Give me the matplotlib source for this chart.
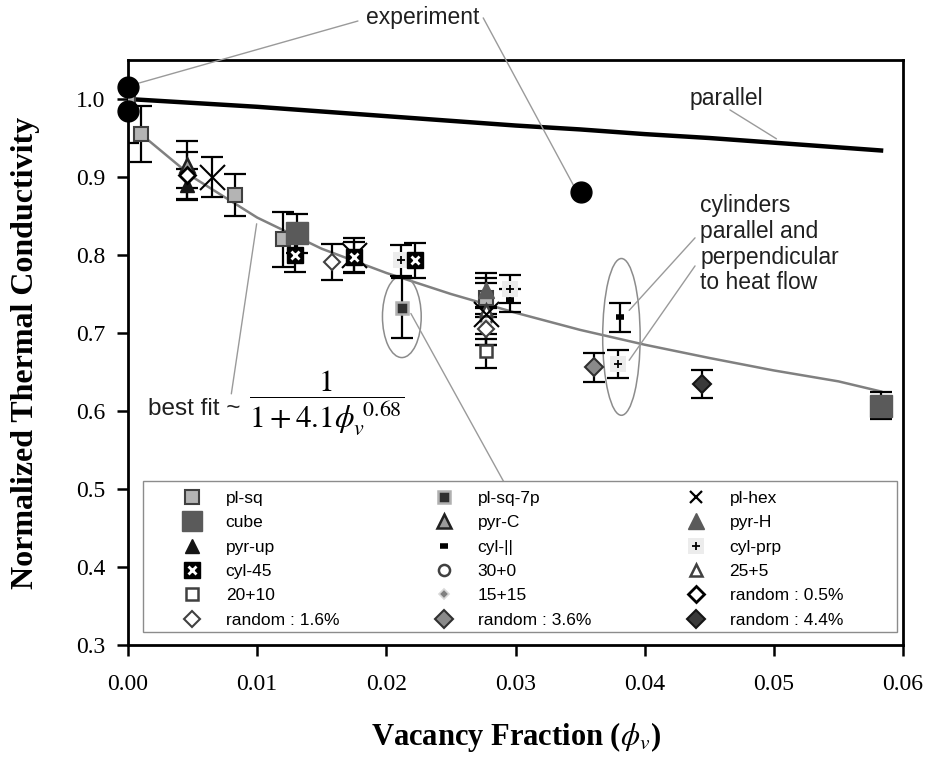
import matplotlib
matplotlib.use('Agg')
import matplotlib.pyplot as plt
from matplotlib.lines import Line2D
from matplotlib.patches import Ellipse, Rectangle

plt.rcParams['mathtext.fontset'] = 'stix'

# ---- data ----
parallel_x = [0.0, 0.005, 0.01, 0.015, 0.02, 0.025, 0.03, 0.035, 0.04, 0.045, 0.05, 0.055, 0.0583]
parallel_y = [1.0, 0.995, 0.990, 0.984, 0.978, 0.972, 0.966, 0.961, 0.955, 0.950, 0.944, 0.938, 0.934]

fit_x = [0.001, 0.005, 0.01, 0.015, 0.02, 0.025, 0.03, 0.035, 0.04, 0.045, 0.05, 0.055, 0.0583]
fit_y = [0.955, 0.900, 0.848, 0.808, 0.777, 0.750, 0.726, 0.704, 0.685, 0.668, 0.652, 0.638, 0.625]

exp_x = [0.0, 0.0, 0.0351]
exp_y = [1.016, 0.985, 0.881]

pl_sq_x = [0.0, 0.001, 0.0083, 0.012, 0.0277]
pl_sq_y = [1.0, 0.955, 0.877, 0.82, 0.745]
pl_sq_err = [0.057, 0.036, 0.027, 0.035, 0.025]

pl_sq_7p_x = [0.0212]
pl_sq_7p_y = [0.732]
pl_sq_7p_err = [0.038]

pl_hex_x = [0.0065, 0.0175, 0.0277]
pl_hex_y = [0.900, 0.800, 0.724]
pl_hex_err = [0.026, 0.022, 0.040]

cube_x = [0.0131, 0.0583]
cube_y = [0.828, 0.607]
cube_err = [0.025, 0.017]

pyr_c_x = [0.0046]
pyr_c_y = [0.916]
pyr_c_err = [0.030]

pyr_h_x = [0.0277]
pyr_h_y = [0.755]
pyr_h_err = [0.022]

pyr_up_x = [0.0046]
pyr_up_y = [0.890]
pyr_up_err = [0.020]

cyl_par_x = [0.0296, 0.0381]
cyl_par_y = [0.742, 0.720]
cyl_par_err = [0.015, 0.019]

cyl_prp_x = [0.0211, 0.0296, 0.0379]
cyl_prp_y = [0.793, 0.756, 0.660]
cyl_prp_err = [0.020, 0.018, 0.018]

cyl_45_x = [0.0129, 0.0175, 0.0222]
cyl_45_y = [0.800, 0.797, 0.793]
cyl_45_err = [0.022, 0.020, 0.022]

c30_0_x = [0.0277]
c30_0_y = [0.718]
c25_5_x = [0.0277]
c25_5_y = [0.730]

c20_10_x = [0.0277]
c20_10_y = [0.677]
c20_10_err = [0.022]

c15_15_x = [0.0277]
c15_15_y = [0.712]
c15_15_err = [0.020]

rand05_x = [0.0046]
rand05_y = [0.902]
rand05_err = [0.030]

rand16_x = [0.0158, 0.0277]
rand16_y = [0.791, 0.705]
rand16_err = [0.023, 0.020]

rand36_x = [0.0361]
rand36_y = [0.656]
rand36_err = [0.019]

rand44_x = [0.0444]
rand44_y = [0.635]
rand44_err = [0.018]

legend_labels = ['pl-sq', 'pl-sq-7p', 'pl-hex',
                 'cube', 'pyr-C', 'pyr-H',
                 'pyr-up', 'cyl-||', 'cyl-prp',
                 'cyl-45', '30+0', '25+5',
                 '20+10', '15+15', 'random : 0.5%',
                 'random : 1.6%', 'random : 3.6%', 'random : 4.4%']

x_ticks = [0.0, 0.01, 0.02, 0.03, 0.04, 0.05, 0.06]
y_ticks = [0.3, 0.4, 0.5, 0.6, 0.7, 0.8, 0.9, 1.0]

# ---- marker styles ----
styles = {
    'pl-sq': dict(marker='s', ms=10, mfc='#b4b4b4', mec='#404040', mew=1.5),
    'pl-sq-7p': dict(marker='s', ms=8, mfc='#303030', mec='#b0b0b0', mew=1.8),
    'pl-hex': dict(marker='x', ms=18, mfc='black', mec='black', mew=1.5),
    'cube': dict(marker='s', ms=16, mfc='#5a5a5a', mec='#5a5a5a', mew=1),
    'pyr-C': dict(marker='^', ms=10, mfc='#9a9a9a', mec='#202020', mew=1.8),
    'pyr-H': dict(marker='^', ms=11, mfc='#5a5a5a', mec='#5a5a5a', mew=1),
    'pyr-up': dict(marker='^', ms=10, mfc='#151515', mec='#151515', mew=1),
    'cyl-||': dict(marker='_', ms=6, mfc='black', mec='black', mew=4),
    'cyl-prp': dict(marker='+', ms=6, mfc='black', mec='black', mew=1.3),
    'cyl-45': dict(marker='s', ms=11, mfc='black', mec='black', mew=1),
    '30+0': dict(marker='o', ms=8, mfc='white', mec='#404040', mew=1.8),
    '25+5': dict(marker='^', ms=9, mfc='white', mec='#404040', mew=1.8),
    '20+10': dict(marker='s', ms=9, mfc='white', mec='#404040', mew=1.8),
    '15+15': dict(marker='D', ms=5, mfc='#808080', mec='#d8d8d8', mew=1.2),
    'random : 0.5%': dict(marker='D', ms=8, mfc='white', mec='black', mew=2),
    'random : 1.6%': dict(marker='D', ms=8, mfc='white', mec='#404040', mew=1.5),
    'random : 3.6%': dict(marker='D', ms=9, mfc='#8a8a8a', mec='#303030', mew=1.5),
    'random : 4.4%': dict(marker='D', ms=9, mfc='#3a3a3a', mec='#151515', mew=1.5),
}
cyl_prp_bg = dict(marker='s', ms=11, mfc='#ececec', mec='#ececec', mew=0)
cyl_45_cross = dict(marker='x', ms=6, mfc='white', mec='white', mew=2)

series = [
    ('pl-sq', pl_sq_x, pl_sq_y, pl_sq_err),
    ('pl-sq-7p', pl_sq_7p_x, pl_sq_7p_y, pl_sq_7p_err),
    ('pyr-up', pyr_up_x, pyr_up_y, pyr_up_err),
    ('pyr-C', pyr_c_x, pyr_c_y, pyr_c_err),
    ('pyr-H', pyr_h_x, pyr_h_y, pyr_h_err),
    ('cube', cube_x, cube_y, cube_err),
    ('cyl-45', cyl_45_x, cyl_45_y, cyl_45_err),
    ('cyl-||', cyl_par_x, cyl_par_y, cyl_par_err),
    ('cyl-prp', cyl_prp_x, cyl_prp_y, cyl_prp_err),
    ('20+10', c20_10_x, c20_10_y, c20_10_err),
    ('30+0', c30_0_x, c30_0_y, None),
    ('25+5', c25_5_x, c25_5_y, None),
    ('15+15', c15_15_x, c15_15_y, c15_15_err),
    ('random : 0.5%', rand05_x, rand05_y, rand05_err),
    ('random : 1.6%', rand16_x, rand16_y, rand16_err),
    ('random : 3.6%', rand36_x, rand36_y, rand36_err),
    ('random : 4.4%', rand44_x, rand44_y, rand44_err),
    ('pl-hex', pl_hex_x, pl_hex_y, pl_hex_err),
]

fig = plt.figure(figsize=(9.32, 7.59), dpi=100)
ax = fig.add_axes([128 / 932, 114 / 759, 775 / 932, 585 / 759])

# model lines
ax.plot(parallel_x, parallel_y, color='black', lw=3.2, zorder=2)
ax.plot(fit_x, fit_y, color='#808080', lw=1.8, zorder=2)

# simulation points with error bars
for name, xs, ys, errs in series:
    if errs is not None:
        ax.errorbar(xs, ys, yerr=errs, fmt='none', ecolor='black', elinewidth=1.6,
                    capsize=8, capthick=1.6, zorder=3)
    if name == 'cyl-prp':
        ax.plot(xs, ys, ls='none', zorder=4, **cyl_prp_bg)
    ax.plot(xs, ys, ls='none', zorder=5, **styles[name])
    if name == 'cyl-45':
        ax.plot(xs, ys, ls='none', zorder=6, **cyl_45_cross)

# experiment
ax.plot(exp_x, exp_y, ls='none', marker='o', ms=15, mfc='black', mec='black', zorder=6,
        clip_on=False)

# ellipses
ax.add_patch(Ellipse((0.0212, 0.721), 0.0030, 0.105, fill=False, ec='#8c8c8c', lw=1.1, zorder=2))
ax.add_patch(Ellipse((0.0382, 0.695), 0.0029, 0.201, fill=False, ec='#8c8c8c', lw=1.1, zorder=2))

# annotations
line_kw = dict(arrowstyle='-', color='#9a9a9a', lw=1.0, shrinkA=0, shrinkB=0)
sans = 'Liberation Sans'
ax.text(0.0228, 1.105, 'experiment', fontsize=16.5, family=sans, ha='center', va='center',
        color='#202020')
ax.annotate('', xy=(0.00054, 1.019), xytext=(0.0178, 1.100), arrowprops=line_kw,
            annotation_clip=False)
ax.annotate('', xy=(0.0345, 0.889), xytext=(0.0275, 1.104), arrowprops=line_kw,
            annotation_clip=False)

ax.text(0.0463, 1.001, 'parallel', fontsize=16.5, family=sans, ha='center', va='center',
        color='#202020')
ax.annotate('', xy=(0.0502, 0.949), xytext=(0.0466, 0.986), arrowprops=line_kw)

ax.text(0.0443, 0.878, 'cylinders\nparallel and\nperpendicular\nto heat flow', fontsize=16.5,
        family=sans, ha='left', va='top', linespacing=1.15, color='#202020')
ax.annotate('', xy=(0.0388, 0.729), xytext=(0.0439, 0.822), arrowprops=line_kw)
ax.annotate('', xy=(0.0388, 0.665), xytext=(0.0439, 0.786), arrowprops=line_kw)

ax.annotate('', xy=(0.0292, 0.506), xytext=(0.0219, 0.725), arrowprops=line_kw)

ax.text(0.0087, 0.603, 'best fit ~', fontsize=17.5, family=sans, ha='right', va='center',
        color='#202020')
ax.text(0.0094, 0.610, r'$\dfrac{1}{1+4.1\phi_v^{\ 0.68}}$', fontsize=22.5, ha='left',
        va='center')
ax.annotate('', xy=(0.00996, 0.840), xytext=(0.0080, 0.622), arrowprops=line_kw)

# legend frame drawn separately, legend itself frameless
ax.add_patch(Rectangle((0.0194, 0.0222), 0.9729, 0.2581, transform=ax.transAxes,
                       fill=True, fc='white', ec='#8c8c8c', lw=1.0, zorder=7))

handles = []
for lab in legend_labels:
    h = Line2D([], [], ls='none', **styles[lab])
    if lab == 'cyl-prp':
        h = (Line2D([], [], ls='none', **cyl_prp_bg), h)
    if lab == 'cyl-45':
        h = (h, Line2D([], [], ls='none', **cyl_45_cross))
    if lab == 'pl-hex':
        h = Line2D([], [], ls='none', marker='x', ms=8, mec='black', mew=1.6)
    if lab == 'cube':
        h = Line2D([], [], ls='none', **dict(styles[lab], ms=14))
    handles.append(h)
order = [r * 3 + c for c in range(3) for r in range(6)]
x0 = (164 - 128) / 775
x1 = (857 - 128) / 775
top = (645 - 477) / 585
leg = ax.legend([handles[i] for i in order], [legend_labels[i] for i in order], ncol=3,
                loc='upper left', bbox_to_anchor=(x0, top - 0.25, x1 - x0, 0.25), mode='expand',
                prop={'family': sans, 'size': 12.5}, frameon=False,
                handlelength=1.6, handletextpad=1.15, labelspacing=0.53, borderpad=0.3)
leg.set_zorder(8)

# axes
ax.set_xlim(0, 0.06)
ax.set_ylim(0.3, 1.05)
ax.set_xticks(x_ticks)
ax.set_xticklabels(['%.2f' % v for v in x_ticks])
ax.set_yticks(y_ticks)
ax.set_yticklabels(['%.1f' % v for v in y_ticks])
ax.tick_params(direction='out', length=8, width=1.8, labelsize=17)
ax.tick_params(axis='x', pad=13)
ax.tick_params(axis='y', pad=8)
for lab in ax.get_xticklabels() + ax.get_yticklabels():
    lab.set_family('Liberation Serif')
for sp in ax.spines.values():
    sp.set_linewidth(2.0)

ax.set_xlabel(r'Vacancy Fraction ($\phi_v$)', fontsize=22, family='Liberation Serif',
              fontweight='bold', labelpad=18)
ax.set_ylabel('Normalized Thermal Conductivity', fontsize=23, family='Liberation Serif',
              fontweight='bold')
ax.yaxis.set_label_coords((40 - 128) / 775, 0.5)

fig.savefig('out.png', dpi=100)
